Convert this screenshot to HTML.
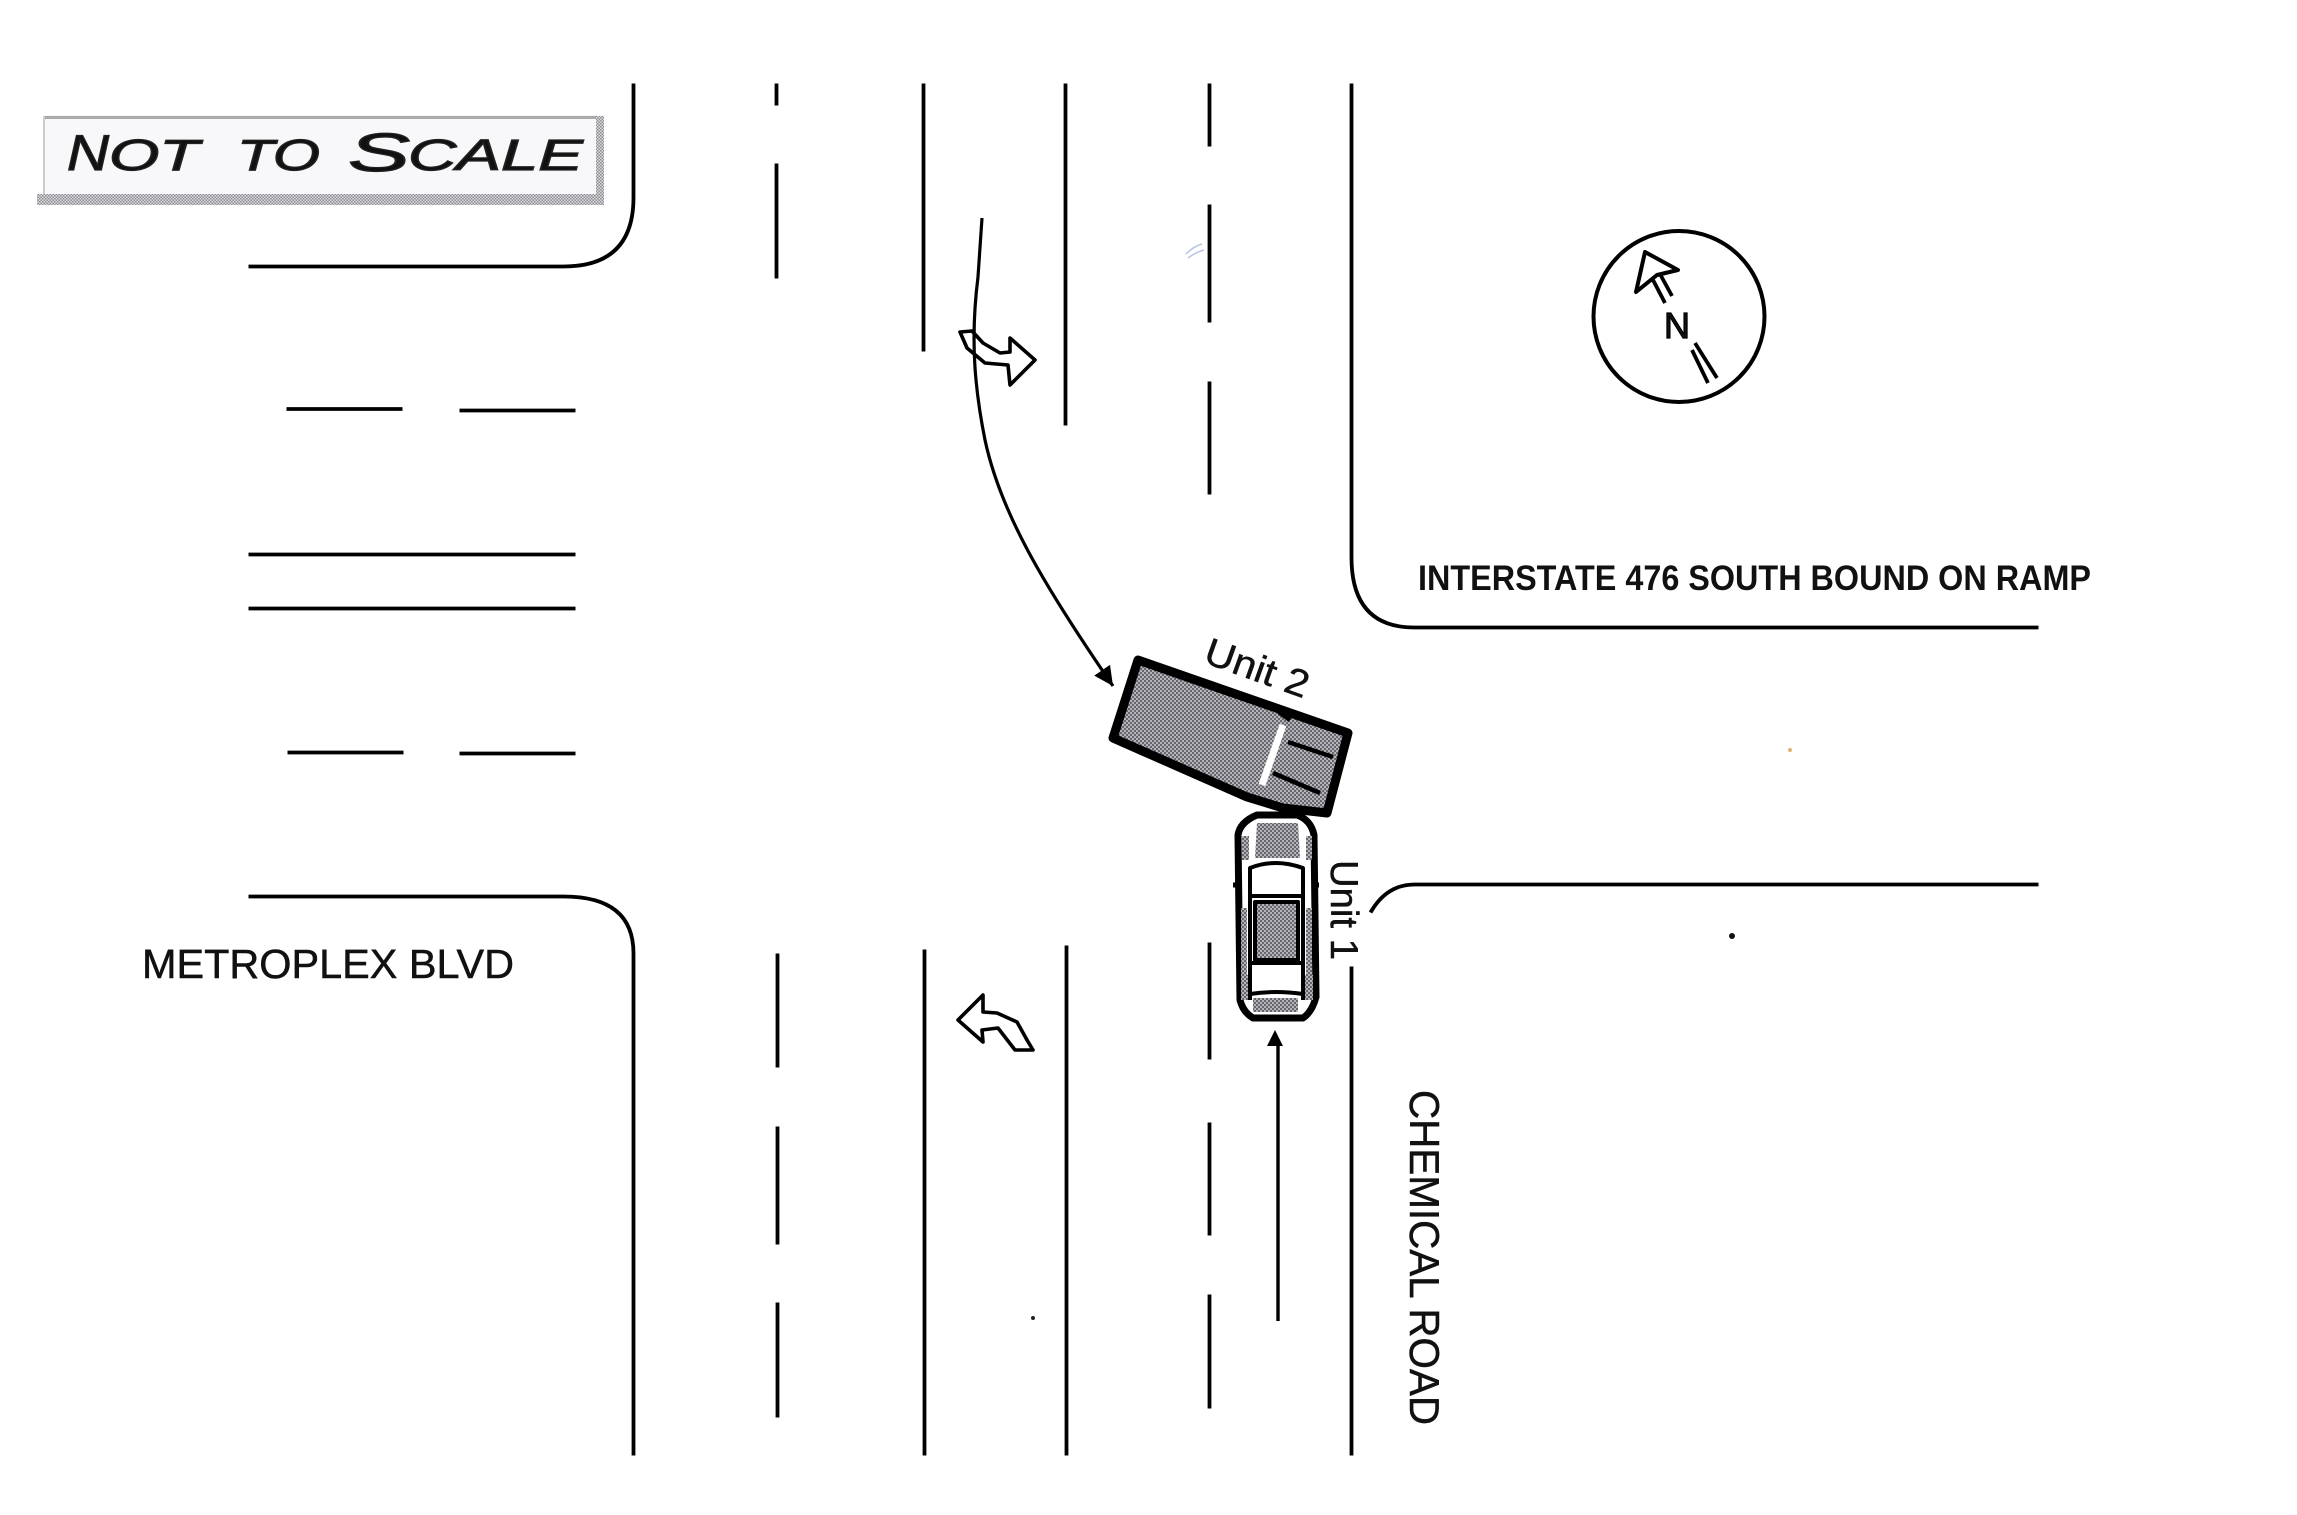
<!DOCTYPE html>
<html lang="en">
<head>
<meta charset="utf-8">
<title>Not to scale intersection diagram</title>
<style>
html,body{margin:0;padding:0;background:#fff;width:2297px;height:1515px;overflow:hidden}
svg{display:block}
text{font-family:"Liberation Sans",sans-serif;fill:#111}
</style>
</head>
<body>
<svg width="2297" height="1515" viewBox="0 0 2297 1515" xmlns="http://www.w3.org/2000/svg">
<defs>
<pattern id="d" width="4" height="4" patternUnits="userSpaceOnUse">
<rect width="4" height="4" fill="#b4b4ba"/>
<rect width="2" height="2" fill="#66666d"/>
<rect x="2" y="2" width="2" height="2" fill="#66666d"/>
</pattern>
<pattern id="s" width="3" height="3" patternUnits="userSpaceOnUse">
<rect width="3" height="3" fill="#dcdce0"/>
<rect width="1.5" height="1.5" fill="#8c8c92"/>
<rect x="1.5" y="1.5" width="1.5" height="1.5" fill="#8c8c92"/>
</pattern>
<marker id="ah" markerWidth="8" markerHeight="8" refX="6" refY="3" orient="auto">
<path d="M0 0L6 3L0 6Z" fill="#000"/>
</marker>
</defs>

<rect width="2297" height="1515" fill="#fff"/>

<!-- road lines -->
<g fill="none" stroke="#000" stroke-width="3.8" transform="translate(-1.500,-0.500)">
<path d="M635 84V198Q635 267 565 267H250"/>
<path d="M778 84V106M778 164V279"/>
<path d="M925 84V352"/>
<path d="M1067 84V426"/>
<path d="M1211 84V147M1211 205V323M1211 382V495"/>
<path d="M1353 84V558Q1353 628 1416 628H2040"/>

<path d="M635 1456V954Q635 897 565 897H250"/>
<path d="M779 954V1068M779 1127V1245M779 1303V1418"/>
<path d="M926 950V1456"/>
<path d="M1068 946V1456"/>
<path d="M1211 943V1060M1211 1123V1236M1211 1295V1409"/>
<path d="M1353 967V1456"/>
<path d="M1372 913Q1388 885 1416 885H2040"/>

<path d="M288 409.500H404M461 411H577"/>
<path d="M250 555H577"/>
<path d="M250 609H577"/>
<path d="M289 753H405M461 754H577"/>
</g>

<!-- Not to scale box -->
<rect x="43" y="115" width="561" height="90" fill="#f8f8fa"/>
<rect x="43" y="116" width="555" height="3" fill="#aaa"/>
<rect x="43" y="116" width="2" height="78" fill="#ccc"/>
<rect x="596" y="116" width="8" height="88" fill="url(#s)"/>
<rect x="37" y="194" width="567" height="11" fill="url(#s)"/>
<g font-style="italic" style="stroke:#222;stroke-width:1.200">
<text x="67" y="170" font-size="50" textLength="42" lengthAdjust="spacingAndGlyphs">N</text>
<text x="109" y="170" font-size="44" textLength="90" lengthAdjust="spacingAndGlyphs">OT</text>
<text x="237" y="170" font-size="44" textLength="83" lengthAdjust="spacingAndGlyphs">TO</text>
<text x="348" y="171" font-size="54" textLength="62" lengthAdjust="spacingAndGlyphs">S</text>
<text x="408" y="170" font-size="44" textLength="175" lengthAdjust="spacingAndGlyphs">CALE</text>
</g>

<!-- compass -->
<circle cx="1679" cy="316.500" r="85.500" fill="none" stroke="#000" stroke-width="4"/>
<path d="M1645 252L1678 270L1657 275L1636 292Z" fill="#fff" stroke="#000" stroke-width="4" stroke-linejoin="round"/>
<path d="M1652 278L1665 303M1660 274L1672 296M1695 343L1717 378M1692 350L1708 383" fill="none" stroke="#000" stroke-width="3.800"/>
<text x="1664" y="338" font-size="36" style="stroke:#000;stroke-width:1.200">N</text>

<!-- Unit 2 path -->
<path d="M982 218L978 277C970 340 975 390 985 440C1000 510 1040 580 1113 686" fill="none" stroke="#000" stroke-width="3.200" marker-end="url(#ah)"/>

<!-- turn arrows -->
<path d="M960 332L972 331L983 343L1000 353L1010 352L1010 338L1035 360L1010 385L1008 365L985 363L967 348Z" fill="none" stroke="#000" stroke-width="3.600" stroke-linejoin="round"/>
<path d="M958 1020L983 995L983 1012L997 1013L1017 1022L1027 1040L1033 1050L1015 1050L998 1028L982 1030L983 1042Z" fill="none" stroke="#000" stroke-width="3.600" stroke-linejoin="round"/>

<!-- Unit 1 path -->
<path d="M1278 1321V1045" fill="none" stroke="#000" stroke-width="3.400"/>
<path d="M1275 1030L1283 1046H1267Z" fill="#000"/>

<!-- truck -->
<g stroke="#000" stroke-linejoin="round">
<path d="M1138 660L1348 733L1327 813L1283 808L1247 797L1113 738Z" fill="url(#d)" stroke-width="9"/>
<path d="M1283 725L1262 785" stroke="#fff" stroke-width="7" fill="none"/>
<path d="M1279 712L1290 720M1288 742L1333 757M1273 773L1320 793" stroke-width="4.500" fill="none"/>
</g>

<!-- car -->
<g stroke="#000" stroke-linejoin="round">
<path d="M1238 835Q1240 822 1257 815H1297Q1311 820 1314 835L1316 997Q1312 1012 1303 1018H1253Q1243 1012 1240 1000Z" fill="#fff" stroke-width="7"/>
<path d="M1257 823H1298L1300 858H1255Z" fill="url(#d)" stroke="none"/>
<path d="M1255 902H1298V960H1255Z" fill="url(#d)" stroke="#000" stroke-width="4"/>
<path d="M1253 998H1298V1012H1253Z" fill="url(#d)" stroke="none"/>
<path d="M1242 836H1249V860H1242ZM1306 836H1312V860H1306ZM1241 908H1247V975H1241ZM1306 908H1312V975H1306ZM1241 975H1250V1000H1241ZM1303 975H1313V1000H1303Z" fill="url(#d)" stroke="none"/>
<path d="M1250 868Q1275 858 1303 868L1303 896H1250Z" fill="#fff" stroke-width="4"/>
<path d="M1250 868V1000M1303 868V1000M1250 963H1303M1250 994Q1275 990 1303 994" fill="none" stroke-width="4"/>
<path d="M1233 885H1240M1312 885H1319" stroke-width="5"/>
</g>

<!-- labels -->
<g style="stroke:#111;stroke-width:0.500">
<text x="142" y="978" font-size="41" textLength="372" lengthAdjust="spacingAndGlyphs">METROPLEX BLVD</text>
<text x="1418" y="590" font-size="35" font-weight="bold" textLength="673" lengthAdjust="spacingAndGlyphs" style="stroke:none">INTERSTATE 476 SOUTH BOUND ON RAMP</text>
<text transform="translate(1410,1090) rotate(90)" font-size="42" textLength="335" lengthAdjust="spacingAndGlyphs">CHEMICAL ROAD</text>
<text transform="translate(1202,662) rotate(19.700)" font-size="38" textLength="108" lengthAdjust="spacingAndGlyphs">Unit 2</text>
<text transform="translate(1331,860) rotate(90)" font-size="39" textLength="100" lengthAdjust="spacingAndGlyphs">Unit 1</text>
</g>

<!-- specks -->
<circle cx="1732" cy="936" r="3" fill="#111"/>
<circle cx="1033" cy="1318" r="2" fill="#222"/>
<circle cx="1790" cy="750" r="2" fill="#e0b070"/>
<path d="M1186 254Q1194 246 1202 244M1188 258Q1196 252 1204 250" fill="none" stroke="#b8c4e8" stroke-width="1.500"/>
</svg>
</body>
</html>
